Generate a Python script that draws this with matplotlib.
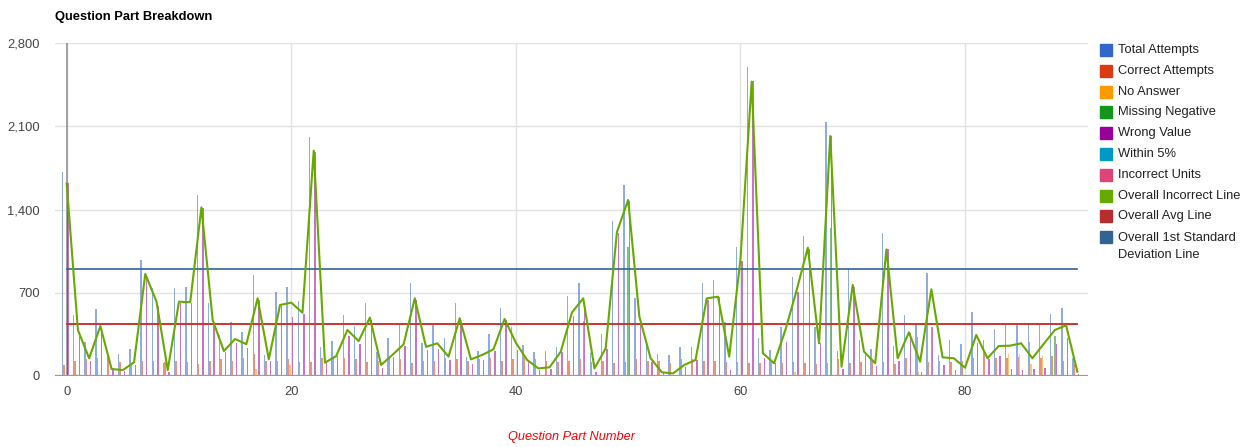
import numpy as np
import matplotlib
matplotlib.use("Agg")
from matplotlib import pyplot as plt
from matplotlib.patches import Rectangle
from matplotlib.ticker import FuncFormatter

plt.rcParams['font.family'] = ['Liberation Sans', 'DejaVu Sans']

# question parts 0..90
question_part = np.arange(91)

total_attempts = [
    1718, 513, 289, 561, 200, 185, 224, 976, 743, 110,
    743, 751, 1522, 611, 345, 451, 373, 849, 180, 704,
    746, 631, 2007, 241, 297, 513, 423, 611, 200, 317,
    426, 785, 280, 437, 317, 611, 160, 210, 353, 575,
    415, 261, 199, 208, 241, 673, 779, 196, 353, 1306,
    1606, 653, 303, 185, 177, 247, 247, 779, 807, 457,
    1088, 2596, 317, 219, 415, 835, 1177, 415, 2133, 213,
    897, 300, 227, 1200, 255, 513, 443, 869, 180, 303,
    266, 541, 303, 392, 429, 429, 429, 429, 519, 575,
    149]
correct_attempts = [
    90, 130, 140, 150, 140, 120, 110, 130, 130, 120,
    130, 120, 100, 130, 140, 130, 150, 182, 130, 130,
    140, 120, 120, 150, 150, 150, 140, 120, 130, 150,
    140, 110, 130, 130, 150, 140, 130, 140, 150, 130,
    140, 150, 140, 130, 120, 130, 140, 120, 130, 110,
    120, 140, 130, 130, 110, 140, 140, 130, 130, 120,
    120, 110, 110, 120, 110, 120, 110, 100, 110, 140,
    110, 120, 130, 120, 100, 150, 331, 120, 130, 120,
    130, 150, 200, 150, 150, 160, 289, 150, 170, 130,
    100]
no_answer = [
    0, 20, 0, 0, 0, 0, 0, 0, 0, 0,
    0, 0, 0, 0, 0, 0, 0, 60, 0, 0,
    90, 0, 0, 0, 0, 0, 0, 0, 0, 0,
    0, 0, 0, 0, 0, 0, 0, 0, 0, 0,
    0, 0, 0, 0, 0, 0, 0, 0, 0, 0,
    0, 0, 0, 0, 0, 0, 0, 0, 0, 0,
    0, 0, 0, 0, 0, 30, 0, 0, 0, 0,
    0, 0, 0, 0, 0, 0, 40, 0, 0, 0,
    0, 0, 0, 0, 185, 185, 100, 168, 0, 0,
    0]
missing_negative = [
    0, 0, 0, 0, 0, 0, 0, 0, 0, 0,
    0, 0, 0, 0, 0, 0, 0, 0, 0, 0,
    0, 0, 0, 0, 0, 0, 0, 0, 0, 0,
    0, 0, 0, 0, 0, 0, 0, 0, 0, 0,
    0, 0, 0, 0, 0, 0, 465, 0, 0, 0,
    1087, 0, 0, 0, 0, 0, 0, 0, 0, 0,
    0, 0, 0, 0, 0, 0, 0, 0, 1244, 0,
    0, 0, 0, 0, 0, 0, 0, 415, 0, 0,
    0, 0, 0, 0, 0, 0, 0, 0, 336, 0,
    0]
wrong_value = [
    1620, 373, 129, 401, 50, 42, 93, 841, 589, 36,
    611, 611, 1413, 457, 199, 280, 238, 640, 125, 590,
    499, 519, 1885, 112, 168, 336, 269, 471, 70, 157,
    255, 639, 219, 224, 135, 457, 104, 137, 210, 471,
    219, 115, 50, 56, 205, 507, 555, 36, 227, 1200,
    1475, 485, 120, 25, 10, 78, 135, 639, 667, 50,
    967, 2478, 149, 107, 289, 709, 1065, 275, 2018, 56,
    751, 177, 87, 1070, 126, 359, 36, 415, 93, 50,
    10, 275, 140, 168, 56, 50, 56, 65, 266, 317,
    20]
within_5 = [0] * 91
incorrect_units = [0] * 91

overall_incorrect = [
    1620, 387, 149, 420, 59, 50, 115, 858, 625, 50,
    625, 620, 1418, 471, 210, 311, 268, 653, 140, 597,
    617, 532, 1895, 112, 168, 387, 294, 491, 93, 177,
    266, 653, 245, 275, 163, 485, 140, 177, 224, 479,
    280, 135, 64, 73, 205, 535, 653, 64, 233, 1210,
    1480, 499, 149, 31, 22, 93, 135, 653, 667, 163,
    980, 2475, 191, 107, 387, 720, 1079, 275, 2018, 78,
    765, 205, 107, 1065, 149, 367, 120, 729, 157, 149,
    70, 345, 149, 252, 255, 275, 149, 269, 387, 426,
    36]
overall_avg = 434
overall_std = 897

bar_series = [
    ("Total Attempts", total_attempts, "#3366cc"),
    ("Correct Attempts", correct_attempts, "#dc3912"),
    ("No Answer", no_answer, "#ff9900"),
    ("Missing Negative", missing_negative, "#109618"),
    ("Wrong Value", wrong_value, "#990099"),
    ("Within 5%", within_5, "#0099c6"),
    ("Incorrect Units", incorrect_units, "#dd4477"),
]
line_series = [
    ("Overall Incorrect Line", "#66aa00"),
    ("Overall Avg Line", "#b82e2e"),
    ("Overall 1st Standard\nDeviation Line", "#316395"),
]

W, H = 1244, 447
fig = plt.figure(figsize=(W / 100, H / 100), dpi=100)
ax = fig.add_axes([55 / W, 1 - 376 / H, (1088 - 55) / W, (376 - 43) / H])

bw = 0.125
for k, (label, vals, color) in enumerate(bar_series):
    ax.bar(question_part + (k - 3) * bw, vals, width=bw, color=color,
           alpha=0.55, linewidth=0, zorder=3)

ax.plot(question_part, overall_incorrect, color="#66aa00", lw=1.5, zorder=5)
ax.plot(question_part, np.full(len(question_part), overall_avg),
        color="#cc3333", lw=1.4, zorder=4)
ax.plot(question_part, np.full(len(question_part), overall_std),
        color="#316395", lw=1.2, zorder=4)

ax.set_xlim(-1.04, 90.95)
ax.set_ylim(0, 2800)
ax.set_yticks([0, 700, 1400, 2100, 2800])
ax.set_xticks([0, 20, 40, 60, 80])
ax.yaxis.set_major_formatter(FuncFormatter(lambda v, p: "{:,.0f}".format(v)))
ax.grid(True, color="#e2e2e2", lw=1.0, zorder=0)
ax.set_axisbelow(True)
for s in ax.spines.values():
    s.set_visible(False)
ax.axhline(0, color="#9a9a9a", lw=1.6, zorder=6)
ax.axvline(0, color="#a0a0a0", lw=1.4, zorder=2)
ax.tick_params(length=0, labelsize=9.3, colors="#444444")
ax.tick_params(axis="y", pad=11)
ax.tick_params(axis="x", pad=7)

fig.text(55 / W, 1 - 17 / H, "Question Part Breakdown", fontsize=9.3,
         fontweight="bold", va="center", ha="left")
fig.text(571 / W, 1 - 437 / H, "Question Part Number", fontsize=9.2,
         style="italic", color="#ff0000", va="center", ha="center")

# legend drawn by hand
legend_items = [(l, c) for l, v, c in bar_series] + line_series
for i, (label, color) in enumerate(legend_items):
    yc = 50 + i * 20.8
    fig.patches.append(Rectangle((1100 / W, 1 - (yc + 6) / H), 12 / W, 12 / H,
                                 transform=fig.transFigure, color=color,
                                 figure=fig))
    if "\n" in label:
        fig.text(1118 / W, 1 - (yc - 5) / H, label, fontsize=9.3, va="top",
                 ha="left", color="#222222", linespacing=1.5)
    else:
        fig.text(1118 / W, 1 - yc / H, label, fontsize=9.3, va="center",
                 ha="left", color="#222222")

fig.savefig("out.png", dpi=100)
